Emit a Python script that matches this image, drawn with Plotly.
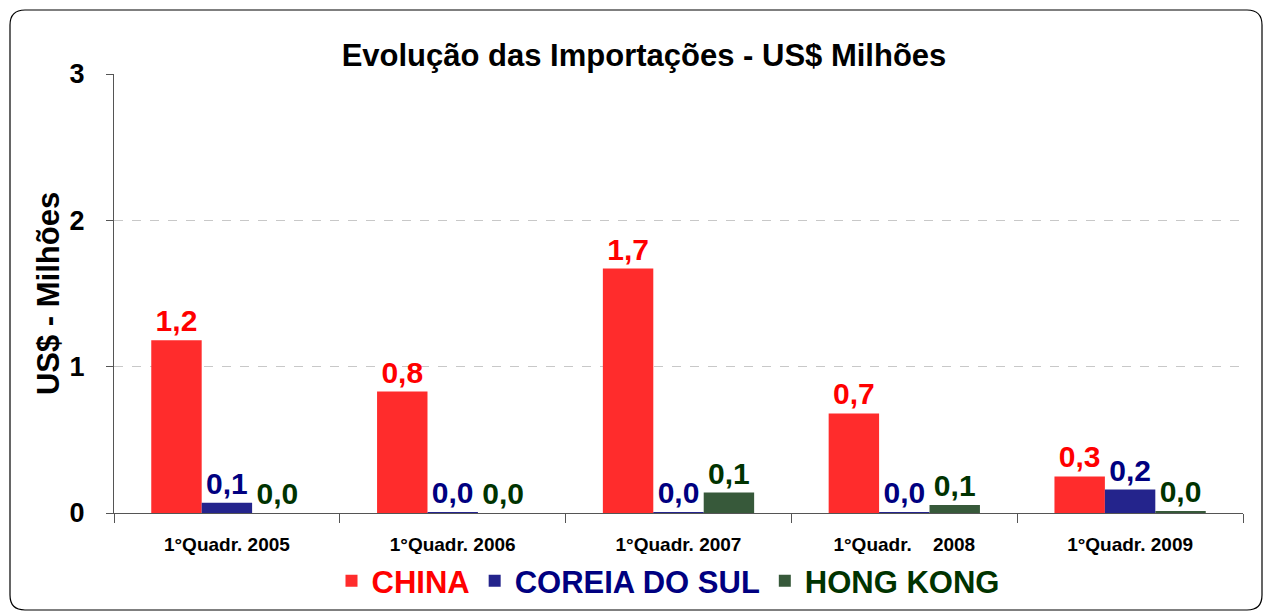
import plotly.graph_objects as go

categories = ["1°Quadr. 2005", "1°Quadr. 2006", "1°Quadr. 2007", "1°Quadr.\u00a0\u00a0\u00a0\u00a02008", "1°Quadr. 2009"]
china = [1.18, 0.83, 1.67, 0.68, 0.25]
coreia = [0.07, 0.003, 0.003, 0.003, 0.16]
hongkong = [0.0, 0.0, 0.14, 0.055, 0.01]
y_ticks = [0, 1, 2, 3]

FONT = "Liberation Sans, Arial, sans-serif"

series = [
    ("CHINA", china, "#FF2C2C", "#FF0000"),
    ("COREIA DO SUL", coreia, "#24248C", "#000080"),
    ("HONG KONG", hongkong, "#37593A", "#003300"),
]

fig = go.Figure()
for name, vals, fill, txt in series:
    fig.add_trace(go.Bar(
        x=categories, y=vals,
        name=f"<b><span style='color:{txt}'>{name}</span></b>",
        marker=dict(color=fill, line=dict(width=0)),
        texttemplate="<b>%{y:.1f}</b>", textposition="outside",
        textfont=dict(family=FONT, size=30, color=txt),
        cliponaxis=False,
    ))

L, R, T, B = 114, 23, 74, 100
W, H = 1266, 613
pw, ph = W - L - R, H - T - B
def px(x):
    return (x - L) / pw
def py(y):
    return (H - B - y) / ph
x0, x1, y0, y1 = px(10), px(1262), py(10), py(610)
rx, ry = 15 / pw, 15 / ph
path = (f"M {x0+rx},{y0} L {x1-rx},{y0} Q {x1},{y0} {x1},{y0-ry} "
        f"L {x1},{y1+ry} Q {x1},{y1} {x1-rx},{y1} L {x0+rx},{y1} "
        f"Q {x0},{y1} {x0},{y1+ry} L {x0},{y0-ry} Q {x0},{y0} {x0+rx},{y0} Z")

fig.update_layout(
    width=W, height=H,
    margin=dict(l=L, r=R, t=T, b=B, autoexpand=False),
    paper_bgcolor="white", plot_bgcolor="white",
    separators=",.",
    barmode="group", bargap=0.33, bargroupgap=0,
    font=dict(family=FONT, color="black"),
    title=dict(text="<b>Evolução das Importações - US$ Milhões</b>",
               x=644 / W, xref="container", y=1 - 55 / H, yref="container",
               xanchor="center", yanchor="middle",
               font=dict(size=31, color="black")),
    legend=dict(orientation="h", x=px(668), xanchor="center", y=py(581), yanchor="middle",
                font=dict(size=31, family=FONT), itemsizing="constant",
                traceorder="normal", itemwidth=30, tracegroupgap=0),
    xaxis=dict(type="category", showline=True, linecolor="#555555", linewidth=1,
               ticks="outside", tickson="boundaries", ticklen=9, tickcolor="#555555",
               tickfont=dict(size=19, family=FONT, color="black"),
               ticktext=[f"<b>{c}</b>" for c in categories], tickvals=categories,
               ticklabelstandoff=14,
               showgrid=False, automargin=False),
    yaxis=dict(range=[0, 3], tickvals=y_ticks, ticktext=[f"<b>{v}</b>" for v in y_ticks],
               showline=True, linecolor="#555555", linewidth=1,
               ticks="outside", ticklen=7, tickcolor="#555555",
               tickfont=dict(size=27, family=FONT, color="black"),
               ticklabelstandoff=16,
               showgrid=True, gridcolor="#C8C8C8", griddash="dash", gridwidth=1,
               zeroline=False, automargin=False,
               title=dict(text="<b>US$ - Milhões</b>", font=dict(size=31, color="black"), standoff=0)),
    shapes=[dict(type="path", path=path, xref="paper", yref="paper",
                 line=dict(color="black", width=1.2), layer="below")],
)

fig.write_html("out.html", config={"displayModeBar": False},
               post_script="document.body.style.margin='0';document.body.style.overflow='hidden';")
